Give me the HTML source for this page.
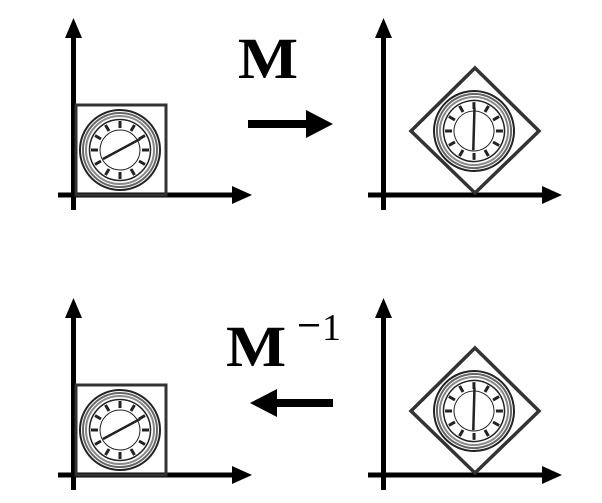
<!DOCTYPE html>
<html><head><style>body{margin:0;background:#fff}svg{display:block}</style></head><body>
<svg width="602" height="503" viewBox="0 0 602 503" xmlns="http://www.w3.org/2000/svg">
<defs>
<g id="clock">
<circle r="40" fill="#fff" stroke="#222" stroke-width="2"/>
<circle r="37" fill="none" stroke="#666" stroke-width="2"/>
<circle r="34" fill="none" stroke="#888" stroke-width="2"/>
<circle r="30.5" fill="none" stroke="#222" stroke-width="1.5"/>
<circle r="20" fill="none" stroke="#222" stroke-width="1"/>
<g stroke="#222" stroke-width="3">
<line x1="0" y1="-29" x2="0" y2="-22"/><line x1="0" y1="29" x2="0" y2="22"/>
<line x1="-29" y1="0" x2="-22" y2="0"/><line x1="29" y1="0" x2="22" y2="0"/>
<line x1="14.5" y1="-25" x2="11" y2="-19"/><line x1="-14.5" y1="-25" x2="-11" y2="-19"/>
<line x1="14.5" y1="25" x2="11" y2="19"/><line x1="-14.5" y1="25" x2="-11" y2="19"/>
<line x1="25" y1="14.5" x2="19" y2="11"/><line x1="-25" y1="14.5" x2="-19" y2="11"/>
<line x1="25" y1="-14.5" x2="19" y2="-11"/><line x1="-25" y1="-14.5" x2="-19" y2="-11"/>
</g>
<line x1="-17" y1="9" x2="20" y2="-11" stroke="#222" stroke-width="2.5"/>
</g>
<g id="axes" fill="#000">
<rect x="71" y="32" width="5" height="178"/>
<polygon points="73.5,18 65,38 82,38"/>
<rect x="58" y="192.5" width="180" height="5"/>
<polygon points="252,195 232,186 232,204"/>
</g>
</defs>
<use href="#axes"/>
<rect x="76" y="105" width="90" height="90" fill="none" stroke="#333" stroke-width="3"/>
<use href="#clock" transform="translate(120,150)"/>
<use href="#axes" transform="translate(310,0)"/>
<polygon points="475,68 539,131 475,193 411,131" fill="none" stroke="#333" stroke-width="3.5"/>
<use href="#clock" transform="translate(474,131) rotate(-60)"/>
<use href="#axes" transform="translate(0,280)"/>
<rect x="76" y="385" width="90" height="90" fill="none" stroke="#333" stroke-width="3"/>
<use href="#clock" transform="translate(120,430)"/>
<use href="#axes" transform="translate(310,280)"/>
<polygon points="475,348 539,411 475,473 411,411" fill="none" stroke="#333" stroke-width="3.5"/>
<use href="#clock" transform="translate(474,411) rotate(-60)"/>
<rect x="248" y="120" width="65" height="8"/>
<polygon points="333,124 306,110 306,138"/>
<rect x="270" y="399" width="63" height="8"/>
<polygon points="250,403 277,389 277,417"/>
<text x="268" y="78" font-family="Liberation Serif, serif" font-weight="bold" font-size="58" text-anchor="middle" transform="translate(268,0) scale(1.1,1) translate(-268,0)">M</text>
<text x="226" y="366" font-family="Liberation Serif, serif" font-weight="bold" font-size="58" transform="translate(226,0) scale(1.1,1) translate(-226,0)">M</text>
<rect x="299" y="324" width="20" height="2.5"/>
<text x="322" y="340" font-family="Liberation Serif, serif" font-size="38">1</text>
</svg>
</body></html>
